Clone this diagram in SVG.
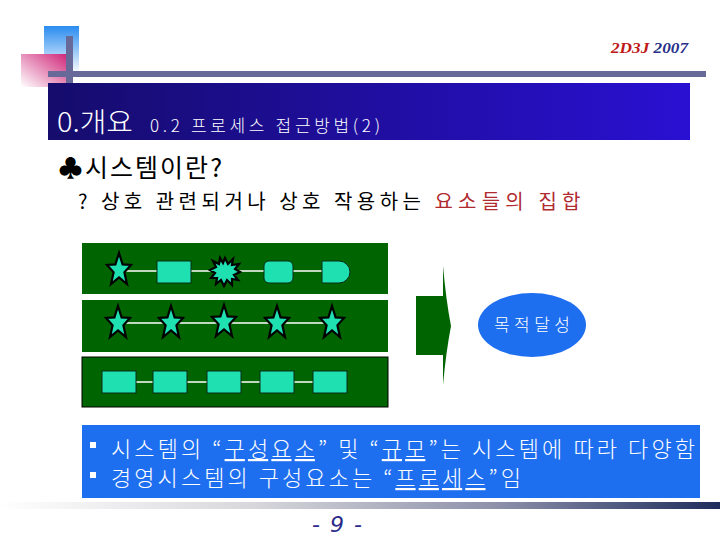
<svg xmlns="http://www.w3.org/2000/svg" width="720" height="540" viewBox="0 0 720 540">
<defs>
<linearGradient id="gBlueSq" x1="0" y1="0" x2="0" y2="1"><stop offset="0" stop-color="#2a8cf0"/><stop offset="1" stop-color="#ffffff"/></linearGradient>
<linearGradient id="gPinkSq" x1="1" y1="0" x2="0" y2="1"><stop offset="0" stop-color="#d0287a"/><stop offset="1" stop-color="#ffffff"/></linearGradient>
<linearGradient id="gTitle" x1="0" y1="0" x2="1" y2="0"><stop offset="0" stop-color="#150c6c"/><stop offset="1" stop-color="#2a10d2"/></linearGradient>
<linearGradient id="gFoot" x1="0" y1="0" x2="1" y2="0"><stop offset="0" stop-color="#ffffff"/><stop offset="0.35" stop-color="#d8d8dc"/><stop offset="0.7" stop-color="#8a8ea8"/><stop offset="1" stop-color="#1e2c5c"/></linearGradient>
<path id="star" d="M0,-17 L3.6,-5.6 L12,-5 L5.4,2.2 L8,14 L0,7.4 L-8,14 L-5.4,2.2 L-12,-5 L-3.6,-5.6 Z"/>
<style>
.kr{font-family:"Noto Sans CJK KR","Noto Sans",sans-serif;}
.box{fill:#006400;}
.shape{fill:#1fe0b0;stroke:#0a2a1a;stroke-width:1;}
.st{fill:#1fe0b0;stroke:#000;stroke-width:2.2;stroke-linejoin:miter;}
.conn{stroke:#ffffff;stroke-width:1.5;fill:none;}
</style>
</defs>
<rect width="720" height="540" fill="#ffffff"/>
<!-- decoration -->
<rect x="44" y="26" width="35" height="48" fill="url(#gBlueSq)"/>
<rect x="21" y="54" width="45" height="33" fill="url(#gPinkSq)"/>
<rect x="48" y="71" width="658" height="6" fill="#676a98"/>
<rect x="66" y="36" width="7" height="47" fill="#676a98"/>
<text x="611" y="53" font-family="'Liberation Serif',serif" font-size="15" font-style="italic" font-weight="bold" textLength="77" lengthAdjust="spacingAndGlyphs"><tspan fill="#c01818">2D3J</tspan><tspan fill="#28308a"> 2007</tspan></text>
<!-- title -->
<rect x="48" y="83" width="642" height="57" fill="url(#gTitle)"/>
<text class="kr" x="57" y="132" font-size="27" font-weight="300" fill="#ffffff" textLength="76" lengthAdjust="spacingAndGlyphs">0.개요</text>
<text class="kr" x="150" y="132" font-size="17" font-weight="300" fill="#ffffff" textLength="230" lengthAdjust="spacing">0.2 프로세스 접근방법(2)</text>
<!-- heading -->
<text class="kr" x="58" y="177" font-size="25" fill="#000000" textLength="164" lengthAdjust="spacing">♣시스템이란?</text>
<text class="kr" x="78" y="209" font-size="20" fill="#000000"><tspan textLength="352" lengthAdjust="spacing">? 상호 관련되거나 상호 작용하는 </tspan><tspan fill="#b02a30" textLength="146" lengthAdjust="spacing">요소들의 집합</tspan></text>
<!-- green boxes -->
<g id="row1">
<rect class="box" x="82" y="243" width="306" height="51"/>
</g>
<g id="row2">
<rect class="box" x="82" y="300" width="306" height="52"/>
</g>
<g id="row3">
<rect class="box" x="82" y="357" width="306" height="50" stroke="#000" stroke-width="1"/>
</g>
<g id="connectors">
<line class="conn" x1="119" y1="271" x2="336" y2="271"/>
<line class="conn" x1="118" y1="323" x2="332" y2="323"/>
<line class="conn" x1="119" y1="382" x2="330" y2="382"/>
</g>
<g id="row1-shapes">
<g id="r1-star"><use href="#star" class="st" transform="translate(119,270)"/></g>
<g id="r1-rect"><rect class="shape" x="157" y="261" width="34" height="22"/></g>
<g id="r1-burst"><path class="st" stroke-width="1.5" d="M225,258 L228,264 L233,259 L232,265 L239,264 L235,269 L240,272 L234,275 L238,280 L232,279 L232,285 L227,280 L224,286 L221,280 L216,284 L217,278 L211,278 L215,273 L210,270 L216,267 L213,261 L219,264 L220,258 L223,263 Z"/></g>
<g id="r1-round"><rect class="shape" x="264" y="261" width="29" height="22" rx="5" stroke="#000"/></g>
<g id="r1-delay"><path class="shape" stroke="#000" d="M322,261 H339 A11,11 0 0 1 339,283 H322 Z"/></g>
</g>
<g id="row2-shapes">
<g id="r2-s1"><use href="#star" class="st" transform="translate(118,323)"/></g>
<g id="r2-s2"><use href="#star" class="st" transform="translate(171,323)"/></g>
<g id="r2-s3"><use href="#star" class="st" transform="translate(224,322)"/></g>
<g id="r2-s4"><use href="#star" class="st" transform="translate(277,323)"/></g>
<g id="r2-s5"><use href="#star" class="st" transform="translate(332,323)"/></g>
</g>
<g id="row3-shapes">
<g id="r3-b1"><rect class="shape" x="102" y="371" width="34" height="22"/></g>
<g id="r3-b2"><rect class="shape" x="153" y="371" width="34" height="22"/></g>
<g id="r3-b3"><rect class="shape" x="207" y="371" width="34" height="22"/></g>
<g id="r3-b4"><rect class="shape" x="260" y="371" width="34" height="22"/></g>
<g id="r3-b5"><rect class="shape" x="313" y="371" width="34" height="22"/></g>
</g>
<!-- arrow -->
<g id="arrow">
<path fill="#006400" d="M416,296 H443 V266 Q446,300 451,326 Q446,352 443,385 V355 H416 Z"/>
</g>
<!-- goal -->
<g id="goal">
<ellipse cx="532" cy="325" rx="54" ry="32" fill="#1e6ef0"/>
<text class="kr" x="532" y="331" font-size="17" font-weight="300" fill="#ffffff" text-anchor="middle" textLength="76" lengthAdjust="spacing">목적달성</text>
</g>
<!-- bottom box -->
<g id="notes">
<rect x="82" y="425" width="618" height="73" fill="#1e6ef0"/>
<rect x="90" y="442" width="6" height="6" fill="#ffffff"/>
<rect x="90" y="472" width="6" height="6" fill="#ffffff"/>
<text class="kr" x="111" y="457" font-size="22" font-weight="300" fill="#ffffff" textLength="584" lengthAdjust="spacing">시스템의 “<tspan text-decoration="underline">구성요소</tspan>” 및 “<tspan text-decoration="underline">규모</tspan>”는 시스템에 따라 다양함</text>
<text class="kr" x="111" y="486" font-size="22" font-weight="300" fill="#ffffff" textLength="410" lengthAdjust="spacing">경영시스템의 구성요소는 “<tspan text-decoration="underline">프로세스</tspan>”임</text>
</g>
<!-- footer -->
<rect x="0" y="502" width="720" height="7" fill="url(#gFoot)"/>
<text x="337" y="532" font-family="'DejaVu Sans',sans-serif" font-size="22" font-style="italic" fill="#2a2a8a" text-anchor="middle" textLength="50" lengthAdjust="spacing">- 9 -</text>
</svg>
